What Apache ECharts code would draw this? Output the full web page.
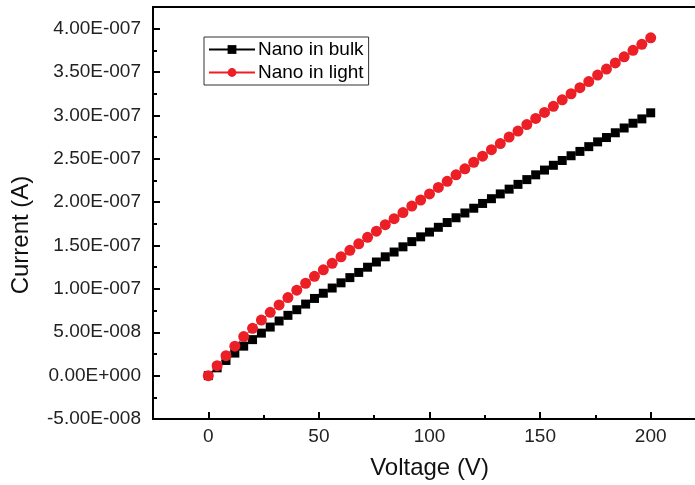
<!DOCTYPE html>
<html>
<head>
<meta charset="utf-8">
<script src="https://cdn.jsdelivr.net/npm/echarts@6/dist/echarts.min.js"></script>
<style>
  html, body { margin: 0; padding: 0; background: #fff; overflow: hidden; }
  #chart { width: 706px; height: 485px; }
</style>
</head>
<body>
<div id="chart"></div>
<script>
// Datos (corriente en unidades de 1e-8 A)
const SCALE = 1e-8;
const voltage = [0, 4, 8, 12, 16, 20, 24, 28, 32, 36, 40, 44, 48, 52, 56, 60, 64, 68, 72, 76,
  80, 84, 88, 92, 96, 100, 104, 108, 112, 116, 120, 124, 128, 132, 136, 140, 144, 148, 152, 156,
  160, 164, 168, 172, 176, 180, 184, 188, 192, 196, 200];
const bulkCurrent = [0, 0.9, 1.75, 2.6, 3.4, 4.15, 4.9, 5.6, 6.3, 6.95, 7.6, 8.25, 8.9, 9.5, 10.1,
  10.7, 11.3, 11.9, 12.5, 13.1, 13.7, 14.25, 14.85, 15.45, 16.0, 16.55, 17.1, 17.65, 18.2, 18.75,
  19.3, 19.85, 20.4, 20.95, 21.5, 22.05, 22.6, 23.15, 23.7, 24.25, 24.8, 25.35, 25.85, 26.4, 26.95,
  27.45, 28.0, 28.55, 29.1, 29.6, 30.3];
const lightCurrent = [0, 1.15, 2.3, 3.4, 4.5, 5.45, 6.4, 7.3, 8.15, 9.0, 9.85, 10.65, 11.45, 12.2,
  12.95, 13.7, 14.45, 15.2, 15.95, 16.65, 17.4, 18.1, 18.8, 19.55, 20.25, 20.95, 21.7, 22.4, 23.15,
  23.85, 24.6, 25.3, 26.05, 26.75, 27.5, 28.2, 28.95, 29.65, 30.35, 31.05, 31.8, 32.5, 33.2, 33.9,
  34.65, 35.35, 36.05, 36.75, 37.5, 38.2, 38.95];
const seriesNames = ['Nano in bulk', 'Nano in light'];

// Ticks
const xMajorTicks = [0, 50, 100, 150, 200];
const xMinorTicks = [25, 75, 125, 175];
const yMajorTicks = [-5e-8, 0, 5e-8, 1e-7, 1.5e-7, 2e-7, 2.5e-7, 3e-7, 3.5e-7, 4e-7];
const yTickLabels = ['-5.00E-008', '0.00E+000', '5.00E-008', '1.00E-007', '1.50E-007',
  '2.00E-007', '2.50E-007', '3.00E-007', '3.50E-007', '4.00E-007'];
const yMinorTicks = [-2.5e-8, 2.5e-8, 7.5e-8, 1.25e-7, 1.75e-7, 2.25e-7, 2.75e-7, 3.25e-7, 3.75e-7];

const FONT = '"Liberation Sans", Arial, sans-serif';

function yLabel(value) {
  let best = 0;
  yMajorTicks.forEach((t, i) => {
    if (Math.abs(t - value) < Math.abs(yMajorTicks[best] - value)) best = i;
  });
  return yTickLabels[best];
}

const bulkData = voltage.map((v, i) => [v, bulkCurrent[i] * SCALE]);
const lightData = voltage.map((v, i) => [v, lightCurrent[i] * SCALE]);

const chart = echarts.init(document.getElementById('chart'));

const xBase = { type: 'value', min: -25, max: 225, splitLine: { show: false } };
const yBase = { type: 'value', min: -5e-8, max: 4.25e-7, splitLine: { show: false } };

const option = {
  animation: false,
  backgroundColor: '#fff',
  grid: {
    left: 153, top: 7, right: 0, bottom: 66,
    show: true, borderColor: '#000', borderWidth: 2
  },
  legend: {
    left: 204, top: 37,
    orient: 'vertical',
    data: seriesNames,
    itemWidth: 46, itemHeight: 11, itemGap: 4,
    padding: [3, 5, 3, 4],
    borderColor: '#333', borderWidth: 1,
    textStyle: { fontFamily: FONT, fontSize: 19, color: '#000', padding: [0, 0, 0, -2] }
  },
  xAxis: [
    Object.assign({}, xBase, {
      position: 'bottom',
      name: 'Voltage (V)',
      nameLocation: 'middle',
      nameGap: 37,
      nameTextStyle: { fontFamily: FONT, fontSize: 24, color: '#111' },
      axisLine: { show: true, onZero: false, lineStyle: { color: '#000', width: 2 } },
      axisTick: { show: true, inside: true, length: 7, lineStyle: { color: '#000', width: 2 },
        customValues: xMajorTicks },
      axisLabel: { fontFamily: FONT, fontSize: 19, color: '#222', margin: 8,
        customValues: xMajorTicks }
    }),
    Object.assign({}, xBase, {
      position: 'bottom',
      axisLine: { show: false, onZero: false },
      axisTick: { show: true, inside: true, length: 4, lineStyle: { color: '#000', width: 2 },
        customValues: xMinorTicks },
      axisLabel: { show: false }
    })
  ],
  yAxis: [
    Object.assign({}, yBase, {
      position: 'left',
      name: 'Current (A)',
      nameLocation: 'middle',
      nameGap: 120,
      nameTextStyle: { fontFamily: FONT, fontSize: 24, color: '#111', padding: [0, 44, 0, 0] },
      axisLine: { show: true, onZero: false, lineStyle: { color: '#000', width: 2 } },
      axisTick: { show: true, inside: true, length: 7, lineStyle: { color: '#000', width: 2 },
        customValues: yMajorTicks },
      axisLabel: { fontFamily: FONT, fontSize: 19, color: '#222', margin: 12,
        customValues: yMajorTicks, formatter: yLabel }
    }),
    Object.assign({}, yBase, {
      position: 'left',
      axisLine: { show: false, onZero: false },
      axisTick: { show: true, inside: true, length: 4, lineStyle: { color: '#000', width: 2 },
        customValues: yMinorTicks },
      axisLabel: { show: false }
    })
  ],
  series: [
    {
      name: seriesNames[0],
      type: 'line',
      data: bulkData,
      symbol: 'rect',
      symbolSize: 9,
      itemStyle: { color: '#000' },
      lineStyle: { color: '#000', width: 1 }
    },
    {
      name: seriesNames[1],
      type: 'line',
      data: lightData,
      symbol: 'circle',
      symbolSize: 11,
      itemStyle: { color: '#ec1f26' },
      lineStyle: { color: '#ec1f26', width: 1 }
    }
  ]
};

chart.setOption(option);
</script>
</body>
</html>
